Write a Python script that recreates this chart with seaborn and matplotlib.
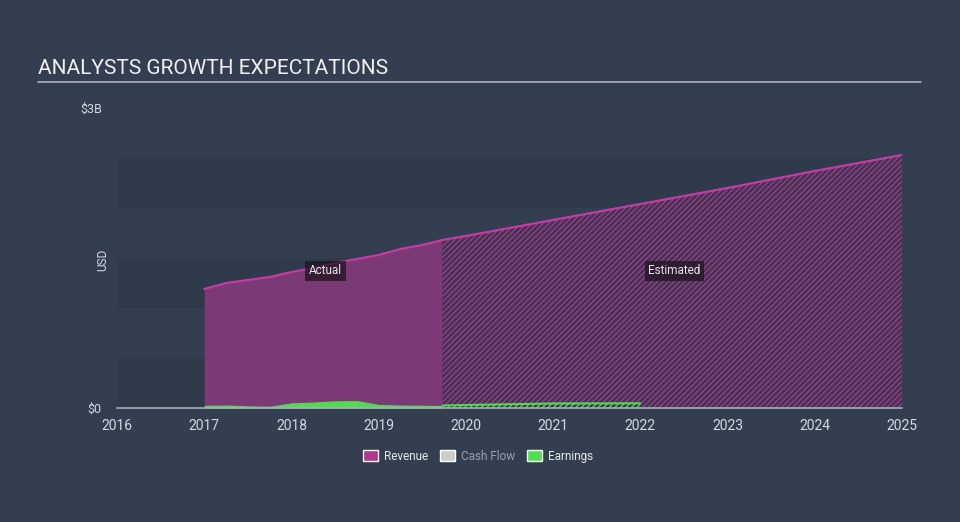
import seaborn as sns
import matplotlib.pyplot as plt
from matplotlib.patches import Patch
import pandas as pd

# revenue (USD billions) - reported quarterly figures
rev_years = [2017.0, 2017.25, 2017.5, 2017.75, 2018.0, 2018.25, 2018.5, 2018.75,
             2019.0, 2019.25, 2019.5, 2019.73]
rev_vals = [1.19, 1.25, 1.28, 1.31, 1.36, 1.40, 1.45, 1.49, 1.53, 1.59, 1.63, 1.68]

# revenue analyst estimates
est_years = [2019.73, 2020.0, 2021.0, 2022.0, 2023.0, 2024.0, 2025.0]
est_vals = [1.68, 1.72, 1.88, 2.04, 2.20, 2.37, 2.53]

# earnings (USD billions)
earn_years = rev_years
earn_vals = [0.027, 0.030, 0.022, 0.018, 0.052, 0.060, 0.072, 0.075,
             0.036, 0.030, 0.028, 0.025]
earn_est_years = [2019.73, 2020.0, 2021.0, 2022.0]
earn_est_vals = [0.025, 0.030, 0.045, 0.047]

x_ticks = list(range(2016, 2026))

BG = '#333f50'
BAND = '#2f3b4a'
REV_LINE = '#c23ca3'
REV_FILL = '#7b3976'
EARN = '#52d94f'

sns.set_style('dark')
plt.rcParams['font.family'] = ['Roboto', 'DejaVu Sans']
plt.rcParams['hatch.linewidth'] = 1.0

fig = plt.figure(figsize=(9.6, 5.22), dpi=100, facecolor=BG)
ax = fig.add_axes([0.1219, 0.2184, 0.8177, 0.5747])
ax.set_facecolor(BG)

for lo in [0.0, 1.0, 2.0]:
    ax.axhspan(lo, lo + 0.5, color=BAND, zorder=0, lw=0)

rev = pd.DataFrame({'year': rev_years, 'value': rev_vals})
est = pd.DataFrame({'year': est_years, 'value': est_vals})
earn = pd.DataFrame({'year': earn_years, 'value': earn_vals})
earn_est = pd.DataFrame({'year': earn_est_years, 'value': earn_est_vals})

# revenue actual
ax.fill_between(rev.year, rev.value, color=REV_FILL, lw=0, zorder=2)
sns.lineplot(data=rev, x='year', y='value', color=REV_LINE, lw=1.6, ax=ax, zorder=3)

# revenue estimate (hatched)
ax.fill_between(est.year, est.value, facecolor='#40354d', edgecolor='#9a3a90',
                hatch='//////', lw=0, zorder=2)
sns.lineplot(data=est, x='year', y='value', color=REV_LINE, lw=1.6, ax=ax, zorder=3)

# earnings
ax.fill_between(earn.year, earn.value, color=EARN, lw=0, zorder=4)
ax.fill_between(earn_est.year, earn_est.value, facecolor='#3b3349', edgecolor=EARN,
                hatch='//////', lw=0, zorder=4)
sns.lineplot(data=earn_est, x='year', y='value', color=EARN, lw=1.5, ax=ax, zorder=5)

ax.set_xlim(2016, 2025)
ax.set_ylim(0, 3)
ax.set_xticks(x_ticks)
ax.set_xticklabels([str(t) for t in x_ticks], color='#d5d9de', fontsize=10)
ax.set_yticks([0, 3])
ax.set_yticklabels(['$0', '$3B'], color='#d5d9de', fontsize=9)
ax.tick_params(axis='x', length=7, width=1, color='#a6aeb8', pad=1, direction='out')
ax.tick_params(axis='y', length=0, pad=11)
ax.set_xlabel('')
ax.set_ylabel('')
ax.grid(False)
for s in ['top', 'right', 'left']:
    ax.spines[s].set_visible(False)
ax.spines['bottom'].set_color('#a6aeb8')
ax.spines['bottom'].set_linewidth(1.2)
ax.spines['bottom'].set_zorder(6)

box = dict(boxstyle='square,pad=0.3', facecolor='#1e1420', edgecolor='none', alpha=0.75)
ax.text(2018.39, 1.37, 'Actual', color='#e6e6e6', fontsize=8.5, ha='center', va='center', bbox=box, zorder=7)
ax.text(2022.39, 1.37, 'Estimated', color='#e6e6e6', fontsize=8.5, ha='center', va='center', bbox=box, zorder=7)

fig.text(0.107, 0.502, 'USD', rotation=90, color='#d5d9de', fontsize=8.5, ha='center', va='center')

fig.text(0.040, 0.868, 'ANALYSTS GROWTH EXPECTATIONS', color='#f0f0f0', fontsize=15,
         ha='left', va='center')
fig.add_artist(plt.Line2D([0.040, 0.959], [0.843, 0.843], color='#a9b1ba', lw=1.2))

handles = [Patch(facecolor='#b0388f', label='Revenue'),
           Patch(facecolor='#cccccc', label='Cash Flow'),
           Patch(facecolor='#4fe04f', label='Earnings')]
leg = fig.legend(handles=handles, loc='center', bbox_to_anchor=(0.498, 0.126), ncol=3,
                 frameon=False, fontsize=8.5, handlelength=1.3, handleheight=1.0,
                 columnspacing=1.0, handletextpad=0.5)
for t, c in zip(leg.get_texts(), ['#e8e8e8', '#9aa1aa', '#e8e8e8']):
    t.set_color(c)

fig.savefig('out.png', dpi=100, facecolor=BG)
